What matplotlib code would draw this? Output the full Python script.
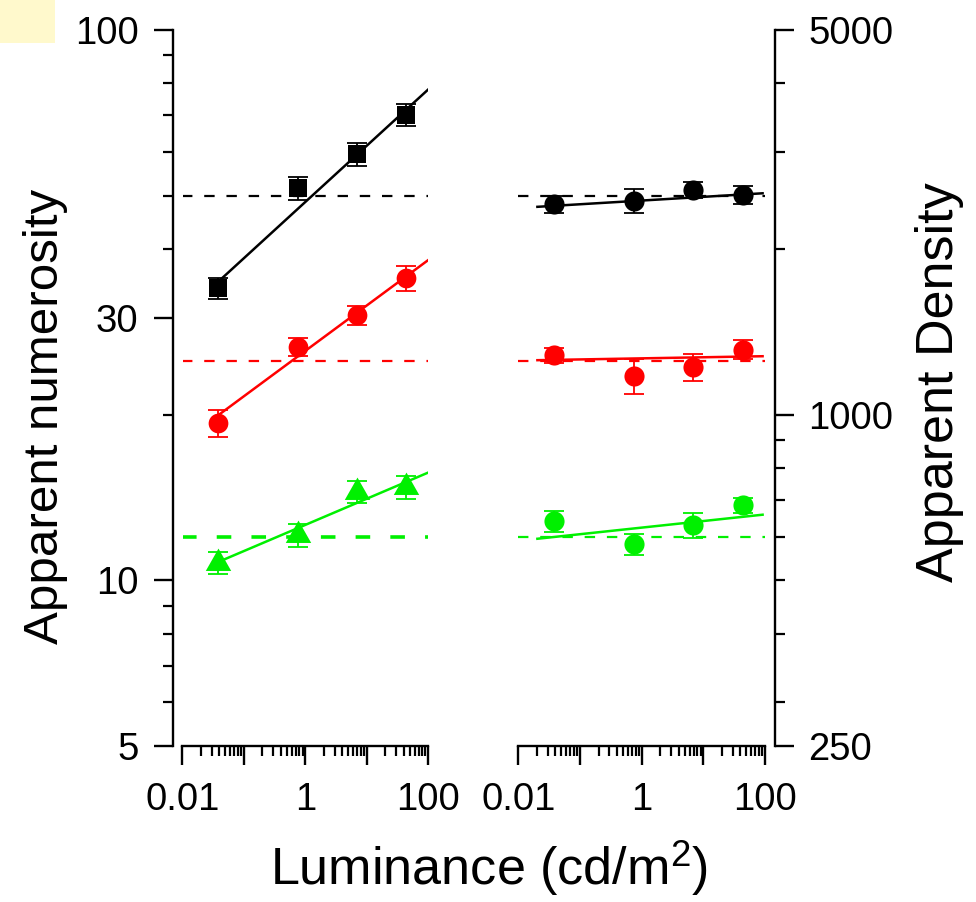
import numpy as np
import matplotlib
matplotlib.use('Agg')
import matplotlib.pyplot as plt
from matplotlib.ticker import FixedLocator, NullFormatter, FuncFormatter, LogLocator
from matplotlib.patches import Rectangle

plt.rcParams['font.family'] = ['Liberation Sans', 'DejaVu Sans']
plt.rcParams['mathtext.fontset'] = 'custom'
plt.rcParams['mathtext.rm'] = 'Liberation Sans'
plt.rcParams['mathtext.default'] = 'regular'
plt.rcParams['lines.scale_dashes'] = False

# ---------------- data ----------------
luminance = [0.0383, 0.76, 6.8, 44.0]

num_black = [34.0, 51.6, 59.5, 70.2]
num_black_err = [1.5, 2.5, 2.8, 3.3]
num_red = [19.3, 26.6, 30.3, 35.4]
num_red_err = [1.1, 1.0, 1.2, 1.9]
num_green = [10.76, 12.08, 14.47, 14.76]
num_green_err = [0.5, 0.57, 0.67, 0.7]

den_black = [2413, 2444, 2559, 2506]
den_black_err = [85, 122, 88, 95]
den_red = [1282, 1175, 1221, 1313]
den_red_err = [42, 85, 70, 52]
den_green = [640, 581, 630, 685]
den_green_err = [28, 26, 33, 22]

num_ref = [50, 25, 12]
den_ref = [2500, 1250, 600]

num_fit_x = [0.0383, 100]
num_fit_black = [34.9, 78.0]
num_fit_red = [19.96, 38.2]
num_fit_green = [10.8, 15.7]

den_fit_x = [0.0204, 91.4]
den_fit_black = [2386, 2525]
den_fit_red = [1256, 1277]
den_fit_green = [595, 658]

x_range = [0.01, 100]
num_ylim = [5, 100]
den_ylim = [250, 5000]
num_major = [5, 10, 30, 100]
num_minor = [6, 7, 8, 9, 20, 40, 50, 60, 70, 80, 90]
den_major = [250, 1000, 5000]
den_minor = [300, 400, 500, 600, 700, 800, 900, 2000, 3000, 4000]
x_major = [0.01, 0.1, 1, 10, 100]
x_labels = {0.01: '0.01', 1: '1', 100: '100'}

# ---------------- styling ----------------
BLACK = '#000000'
RED = '#FF0000'
GREEN = '#00F000'
W, H = 976, 902

def fx(px):
    return px / W

def fy(py):
    return 1 - py / H

fig = plt.figure(figsize=(W / 100, H / 100), dpi=100)

axL = fig.add_axes([fx(182.5), fy(746), (428.3 - 182.5) / W, (746 - 30) / H])
axR = fig.add_axes([fx(518.3), fy(746), (765.0 - 518.3) / W, (746 - 30) / H])

tri = np.array([[0, 14.67], [-12.5, -7.33], [12.5, -7.33]])

def xfmt(v, pos):
    for k, s in x_labels.items():
        if abs(np.log10(v) - np.log10(k)) < 1e-6:
            return s
    return ''

for ax in (axL, axR):
    ax.set_xscale('log')
    ax.set_yscale('log')
    ax.set_xlim(*x_range)
    ax.xaxis.set_major_locator(FixedLocator(x_major))
    ax.xaxis.set_minor_locator(LogLocator(base=10, subs=np.arange(2, 10), numticks=50))
    ax.xaxis.set_major_formatter(FuncFormatter(xfmt))
    ax.xaxis.set_minor_formatter(NullFormatter())
    ax.spines['top'].set_visible(False)
    for s in ax.spines.values():
        s.set_linewidth(1.7)
    ax.tick_params(axis='both', which='major', direction='out', length=13.7,
                   width=1.7, labelsize=27.5)
    ax.tick_params(axis='both', which='minor', direction='out', length=7, width=1.6)
    ax.tick_params(axis='x', which='major', pad=12.5)
    ax.patch.set_visible(False)

# left axis
axL.set_ylim(*num_ylim)
axL.spines['right'].set_visible(False)
axL.spines['left'].set_position(('outward', 7.0))
axL.yaxis.set_major_locator(FixedLocator(num_major))
axL.yaxis.set_minor_locator(FixedLocator(num_minor))
axL.yaxis.set_major_formatter(FuncFormatter(lambda v, p: '%g' % v))
axL.yaxis.set_minor_formatter(NullFormatter())
axL.tick_params(axis='y', which='major', pad=11)

# right axis
axR.set_ylim(*den_ylim)
axR.spines['left'].set_visible(False)
axR.spines['right'].set_position(('outward', 7.2))
axR.yaxis.tick_right()
axR.yaxis.set_major_locator(FixedLocator(den_major))
axR.yaxis.set_minor_locator(FixedLocator(den_minor))
axR.yaxis.set_major_formatter(FuncFormatter(lambda v, p: '%g' % v))
axR.yaxis.set_minor_formatter(NullFormatter())
axR.tick_params(axis='y', which='major', pad=10.5)

eb_kw = dict(fmt='none', elinewidth=1.3, capsize=7.2, capthick=1.3)

# reference dashed lines
dash_std = (7.5, 8.5)
for ax, refs in ((axL, num_ref), (axR, den_ref)):
    for i, (r, c) in enumerate(zip(refs, (BLACK, RED, GREEN))):
        if ax is axL and i == 2:
            lw, dash = 2.6, (10.5, 14.5)
        else:
            lw, dash = 1.6, dash_std
        ax.plot(x_range, [r, r], color=c, lw=lw, dashes=dash, zorder=2)

# left panel series
series_L = [(num_black, num_black_err, num_fit_black, BLACK, 's', 12.5),
            (num_red, num_red_err, num_fit_red, RED, 'o', 14.2),
            (num_green, num_green_err, num_fit_green, GREEN, tri, 21.5)]
for y, e, fit, c, m, ms in series_L:
    axL.errorbar(luminance, y, yerr=e, ecolor=c, zorder=3, **eb_kw)
    axL.plot(luminance, y, linestyle='none', marker=m, ms=ms, mew=0, color=c, zorder=4)
    axL.plot(num_fit_x, fit, color=c, lw=1.8, zorder=5)

series_R = [(den_black, den_black_err, den_fit_black, BLACK),
            (den_red, den_red_err, den_fit_red, RED),
            (den_green, den_green_err, den_fit_green, GREEN)]
for y, e, fit, c in series_R:
    axR.errorbar(luminance, y, yerr=e, ecolor=c, zorder=3, **eb_kw)
    axR.plot(luminance, y, linestyle='none', marker='o', ms=14.5, mew=0, color=c, zorder=4)
    axR.plot(den_fit_x, fit, color=c, lw=1.8, zorder=5)

# labels
fig.text(fx(58.3), fy(416.5), 'Apparent numerosity', rotation=90, rotation_mode='anchor',
         ha='center', va='baseline', fontsize=35.5)
fig.text(fx(953.3), fy(381.7), 'Apparent Density', rotation=90, rotation_mode='anchor',
         ha='center', va='baseline', fontsize=37.5)
fig.text(fx(489), fy(885), 'Luminance (cd/m$^2$)', ha='center', va='baseline', fontsize=37.5)

# yellow block top-left
fig.add_artist(Rectangle((0, fy(43)), fx(55), 43 / H, transform=fig.transFigure,
                         facecolor='#FFF9CC', edgecolor='none', zorder=0))

fig.savefig('out.png', dpi=100)
